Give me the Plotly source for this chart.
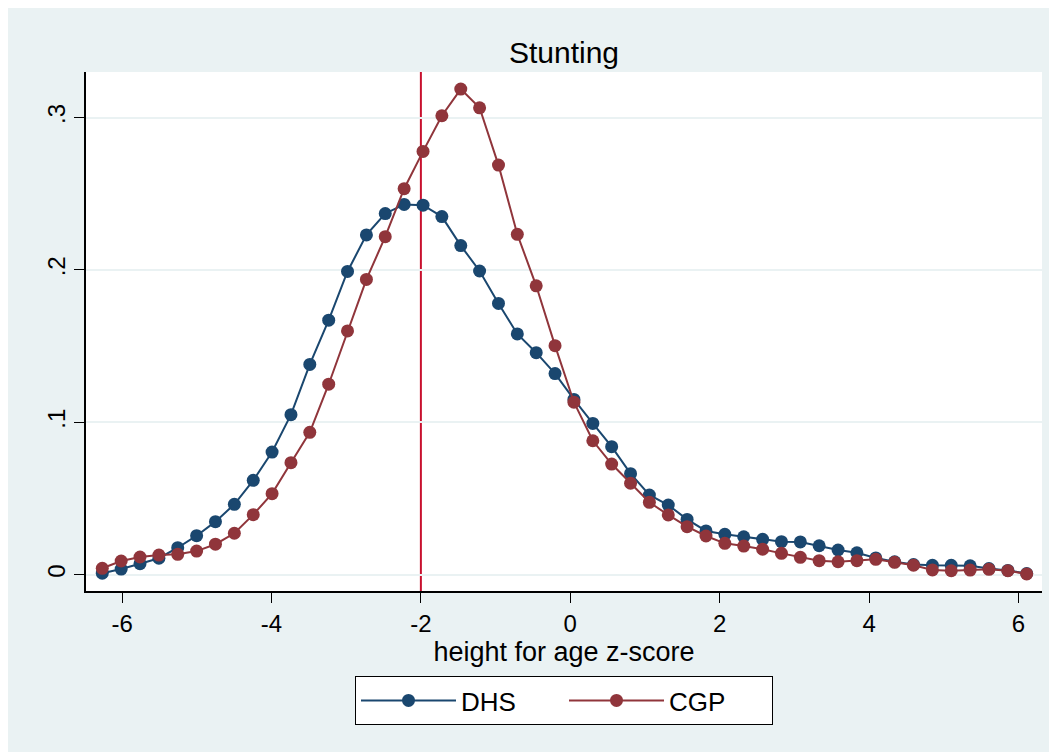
import plotly.graph_objects as go

# z-score grid (kernel density evaluation points)
z_score = [-6.265, -6.012, -5.760, -5.507, -5.255, -5.002, -4.750, -4.497, -4.244, -3.992,
           -3.739, -3.487, -3.234, -2.982, -2.729, -2.477, -2.224, -1.971, -1.719, -1.466,
           -1.214, -0.961, -0.709, -0.456, -0.204, 0.049, 0.302, 0.554, 0.807, 1.059,
           1.312, 1.564, 1.817, 2.069, 2.322, 2.575, 2.827, 3.080, 3.332, 3.585,
           3.837, 4.090, 4.342, 4.595, 4.848, 5.100, 5.353, 5.605, 5.858, 6.110]

dhs_density = [0.0010, 0.0037, 0.0072, 0.0108, 0.0177, 0.0256, 0.0348, 0.0462, 0.0619, 0.0805,
               0.1050, 0.1380, 0.1670, 0.1990, 0.2230, 0.2370, 0.2430, 0.2425, 0.2350, 0.2160,
               0.1993, 0.1780, 0.1580, 0.1457, 0.1320, 0.1150, 0.0993, 0.0840, 0.0663, 0.0523,
               0.0457, 0.0363, 0.0287, 0.0265, 0.0249, 0.0232, 0.0217, 0.0215, 0.0190, 0.0162,
               0.0144, 0.0110, 0.0085, 0.0067, 0.0062, 0.0062, 0.0058, 0.0040, 0.0028, 0.0008]

cgp_density = [0.0042, 0.0090, 0.0116, 0.0129, 0.0134, 0.0155, 0.0200, 0.0272, 0.0394, 0.0532,
               0.0735, 0.0934, 0.1250, 0.1600, 0.1938, 0.2218, 0.2533, 0.2778, 0.3012, 0.3187,
               0.3064, 0.2688, 0.2234, 0.1896, 0.1503, 0.1132, 0.0879, 0.0726, 0.0600, 0.0475,
               0.0392, 0.0315, 0.0254, 0.0206, 0.0188, 0.0167, 0.0140, 0.0114, 0.0092, 0.0085,
               0.0092, 0.0101, 0.0081, 0.0062, 0.0031, 0.0026, 0.0030, 0.0035, 0.0026, 0.0005]

series_names = ["DHS", "CGP"]
x_ticks = [-6, -4, -2, 0, 2, 4, 6]
y_ticks = [0, 0.1, 0.2, 0.3]
y_tick_labels = ["0", ".1", ".2", ".3"]
cutoff = -2

FONT = "Liberation Sans, Arial, sans-serif"
BG = "#eaf2f3"
NAVY = "#1a476f"
MAROON = "#90353b"

fig = go.Figure()
for name, vals, col in [(series_names[0], dhs_density, NAVY), (series_names[1], cgp_density, MAROON)]:
    fig.add_trace(go.Scatter(
        x=z_score, y=vals, name=name, mode="lines+markers",
        line=dict(color=col, width=2),
        marker=dict(color=col, size=13, line=dict(width=0)),
    ))

fig.add_shape(type="line", xref="x", yref="paper", x0=cutoff, x1=cutoff, y0=0, y1=1,
              line=dict(color="#c8102e", width=2), layer="below")

W, H = 1057, 744
fig.update_layout(
    width=W, height=H,
    paper_bgcolor=BG, plot_bgcolor="white",
    margin=dict(l=78, r=W - 1034, t=64, b=H - 583),
    font=dict(family=FONT, color="black"),
    title=dict(text="Stunting", x=0.5, xref="paper", xanchor="center",
               y=1 - 44 / H, yref="container", yanchor="middle",
               font=dict(size=30, family=FONT, color="black")),
    xaxis=dict(range=[-6.483, 6.315], tickvals=x_ticks, ticktext=[str(v) for v in x_ticks],
               ticks="outside", ticklen=10, tickcolor="black", tickwidth=1,
               showline=True, linecolor="black", linewidth=1.5,
               showgrid=False, zeroline=False,
               tickfont=dict(size=24, family=FONT),
               title=dict(text="height for age z-score", font=dict(size=27, family=FONT), standoff=0)),
    yaxis=dict(range=[-0.0107, 0.3299], tickvals=y_ticks, ticktext=y_tick_labels,
               ticks="outside", ticklen=10, tickcolor="black", tickwidth=1,
               showline=True, linecolor="black", linewidth=1.5,
               showgrid=True, gridcolor=BG, gridwidth=2, zeroline=False,
               tickangle=-90, tickfont=dict(size=24, family=FONT)),
    legend=dict(orientation="h", x=0.5, xanchor="center", y=-(668 - 583) / 519, yanchor="top",
                bgcolor="white", bordercolor="black", borderwidth=1,
                font=dict(size=26, family=FONT), itemwidth=95,
                entrywidth=98, entrywidthmode="pixels",
                traceorder="normal"),
    showlegend=True,
)

fig.write_html("out.html", post_script="document.body.style.overflow='hidden';")
